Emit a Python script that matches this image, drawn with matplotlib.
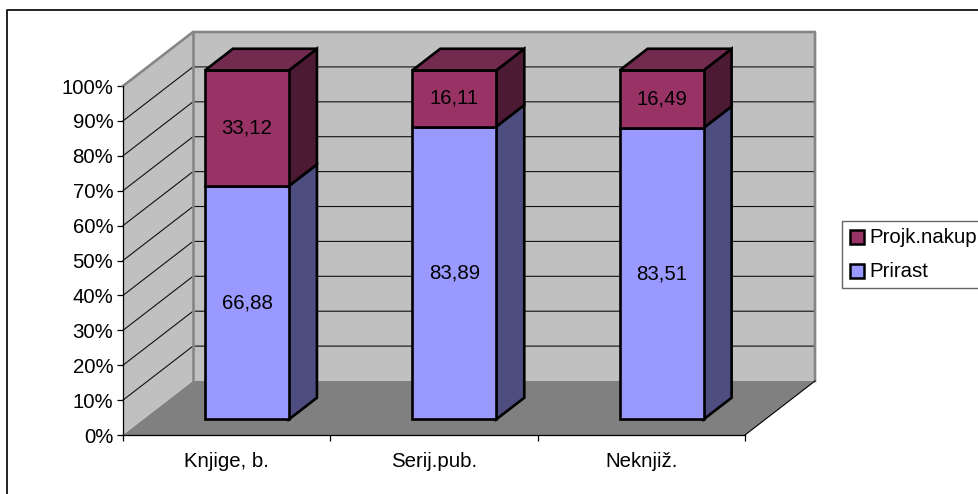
import matplotlib
matplotlib.use("Agg")
import matplotlib.pyplot as plt
from matplotlib.patches import Polygon, Rectangle

categories = ["Knjige, b.", "Serij.pub.", "Neknjiž."]
prirast = [66.88, 83.89, 83.51]
projk_nakup = [33.12, 16.11, 16.49]
percent_ticks = list(range(0, 101, 10))

plt.rcParams["font.family"] = ["Liberation Sans", "DejaVu Sans"]
FONT = 14.7

# faux 3D: how far one full unit of depth shifts things, in data units
DEPTH_X = 0.3376
DEPTH_Y = 15.47
BAR_WIDTH = 0.405
BAR_D0 = 0.29
BAR_D1 = 0.69


def shift(x, y, d):
    return (x + d * DEPTH_X, y + d * DEPTH_Y)


def draw_segment(ax, center, low, high, front, side, top):
    left = center - BAR_WIDTH / 2
    right = center + BAR_WIDTH / 2
    corners = [
        (side, [shift(right, low, BAR_D0), shift(right, low, BAR_D1),
                shift(right, high, BAR_D1), shift(right, high, BAR_D0)]),
        (front, [shift(left, low, BAR_D0), shift(right, low, BAR_D0),
                 shift(right, high, BAR_D0), shift(left, high, BAR_D0)]),
    ]
    if top is not None:
        corners.append((top, [shift(left, high, BAR_D0), shift(right, high, BAR_D0),
                              shift(right, high, BAR_D1), shift(left, high, BAR_D1)]))
    for color, pts in corners:
        ax.add_patch(Polygon(pts, closed=True, facecolor=color, edgecolor="black",
                             linewidth=1.9, joinstyle="miter", clip_on=False, zorder=5))


fig = plt.figure(figsize=(9.79, 4.94), dpi=100, facecolor="white")
ax = fig.add_axes([123 / 979, (494 - 435) / 494, 622 / 979, 349 / 494])
ax.set_xlim(0, 3)
ax.set_ylim(0, 100)
ax.patch.set_visible(False)

# walls and floor
ax.add_patch(Polygon([shift(0, 0, 1), shift(3, 0, 1), shift(3, 100, 1), shift(0, 100, 1)],
                     facecolor="#c0c0c0", edgecolor="none", clip_on=False, zorder=1))
ax.add_patch(Polygon([shift(0, 0, 0), shift(0, 0, 1), shift(0, 100, 1), shift(0, 100, 0)],
                     facecolor="#c0c0c0", edgecolor="none", clip_on=False, zorder=1))
ax.add_patch(Polygon([shift(0, 0, 0), shift(3, 0, 0), shift(3, 0, 1), shift(0, 0, 1)],
                     facecolor="#808080", edgecolor="none", clip_on=False, zorder=2))

# gridlines on both walls
for p in percent_ticks[1:-1]:
    xs, ys = zip(shift(0, p, 0), shift(0, p, 1), shift(3, p, 1))
    ax.plot(xs, ys, color="#111111", linewidth=0.8, clip_on=False, zorder=3)

# grey edges of the walls
xs, ys = zip(shift(0, 100, 0), shift(0, 100, 1), shift(3, 100, 1), shift(3, 0, 1))
ax.plot(xs, ys, color="#868686", linewidth=1.9, clip_on=False, zorder=3)
xs, ys = zip(shift(0, 100, 1), shift(0, 0, 1))
ax.plot(xs, ys, color="#868686", linewidth=1.9, clip_on=False, zorder=3)
xs, ys = zip(shift(3, 0, 0), shift(3, 0, 1))
ax.plot(xs, ys, color="black", linewidth=0.8, clip_on=False, zorder=4)

for i, name in enumerate(categories):
    c = i + 0.5
    low = prirast[i]
    high = low + projk_nakup[i]
    draw_segment(ax, c, 0, low, "#9999ff", "#4d4d80", None)
    draw_segment(ax, c, low, high, "#993366", "#4d1a33", "#732a4f")
    cx, _ = shift(c, 0, BAR_D0)
    ax.text(cx, low / 2 + BAR_D0 * DEPTH_Y, f"{low:.2f}".replace(".", ","),
            ha="center", va="center", fontsize=FONT, color="black", zorder=6)
    ax.text(cx, low + projk_nakup[i] / 2 + BAR_D0 * DEPTH_Y,
            f"{projk_nakup[i]:.2f}".replace(".", ","),
            ha="center", va="center", fontsize=FONT, color="black", zorder=6)

for side in ("top", "right"):
    ax.spines[side].set_visible(False)
for side in ("left", "bottom"):
    ax.spines[side].set_linewidth(0.9)
    ax.spines[side].set_zorder(4)

ax.set_yticks(percent_ticks)
ax.set_yticklabels([f"{p}%" for p in percent_ticks], fontsize=FONT)
ax.tick_params(axis="y", length=4, width=0.9, pad=3)
ax.set_xticks([0, 1, 2, 3])
ax.set_xticklabels([])
ax.tick_params(axis="x", which="major", length=4.5, width=0.9)
ax.set_xticks([0.5, 1.5, 2.5], minor=True)
ax.set_xticklabels(categories, minor=True, fontsize=FONT)
ax.tick_params(axis="x", which="minor", length=0, pad=12)

# outer frame and legend box, placed in pixel coordinates
over = fig.add_axes([0, 0, 1, 1])
over.set_xlim(0, 979)
over.set_ylim(494, 0)
over.axis("off")
over.patch.set_visible(False)
over.plot([7.5, 7.5, 985], [500, 10.5, 10.5], color="#222222", linewidth=1.4)
over.add_patch(Rectangle((842, 221), 150, 67, facecolor="white", edgecolor="#666666", linewidth=1.0))
for y, color, label in [(237, "#993366", "Projk.nakup"), (271, "#9999ff", "Prirast")]:
    over.add_patch(Rectangle((850, y - 7), 14, 14, facecolor=color, edgecolor="black", linewidth=1.8))
    over.text(869, y, label, fontsize=FONT, va="center", ha="left", color="black")

fig.savefig("out.png", dpi=100)
